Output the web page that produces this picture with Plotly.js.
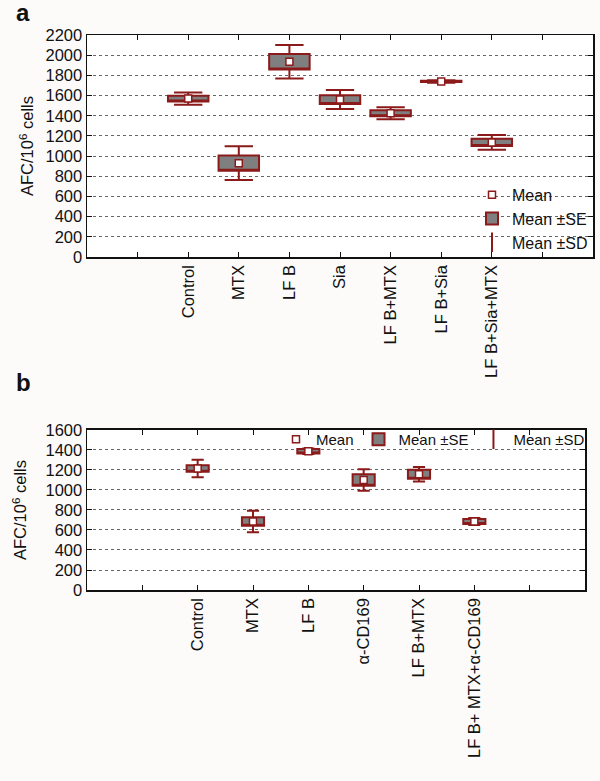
<!DOCTYPE html>
<html>
<head>
<meta charset="utf-8">
<script src="https://cdn.plot.ly/plotly-3.0.1.min.js"></script>
<style>html,body{margin:0;padding:0;background:#fcfbf9;}#chart{width:600px;height:781px;}</style>
</head>
<body>
<div id="chart"></div>
<script>
// Panel a data
var catsA = ['Control', 'MTX', 'LF B', 'Sia', 'LF B+MTX', 'LF B+Sia', 'LF B+Sia+MTX'];
var meanA = [1570, 930, 1935, 1560, 1425, 1740, 1135];
var seA   = [28, 76, 76, 44, 30, 6, 36];
var sdA   = [60, 167, 167, 94, 60, 12, 73];

// Panel b data
var catsB = ['Control', 'MTX', 'LF B', 'α-CD169', 'LF B+MTX', 'LF B+ MTX+α-CD169'];
var meanB = [1215, 685, 1387, 1100, 1158, 685];
var seB   = [33, 42, 22, 58, 45, 26];
var sdB   = [88, 108, 28, 108, 72, 34];

var legendNames = ['Mean', 'Mean ±SE', 'Mean ±SD'];

var RED = '#8b1a1a';
var GRAY = '#7f7f7f';
var FONT = 'Liberation Sans, Arial, sans-serif';
var FS = 16.5;

function idx(arr) { return arr.map(function (_, i) { return i; }); }
function sub(a, b) { return a.map(function (v, i) { return v - b[i]; }); }
function add(a, b) { return a.map(function (v, i) { return v + b[i]; }); }

function panelTraces(cats, mean, se, sd, xa, ya, leg, boxW, whiskW) {
  var xs = idx(cats);
  return [
    {
      type: 'scatter', mode: 'markers', x: xs, y: mean, xaxis: xa, yaxis: ya,
      name: legendNames[0], legend: leg, hoverinfo: 'skip',
      marker: { symbol: 'square', size: 7, color: '#ffffff', line: { color: RED, width: 1.5 } }
    },
    {
      type: 'box', x: xs, xaxis: xa, yaxis: ya, name: legendNames[1], legend: leg,
      q1: sub(mean, se), median: sub(mean, se), q3: add(mean, se),
      lowerfence: sub(mean, sd), upperfence: add(mean, sd),
      width: boxW, whiskerwidth: whiskW, boxpoints: false,
      fillcolor: GRAY, line: { color: RED, width: 2 }, hoverinfo: 'skip'
    },
    {
      type: 'scatter', mode: 'markers', x: [null], y: [null], xaxis: xa, yaxis: ya,
      name: legendNames[2], legend: leg, hoverinfo: 'skip',
      marker: { symbol: 'line-ns-open', size: 14, color: RED, line: { color: RED, width: 2 } }
    }
  ];
}

var traces = panelTraces(catsA, meanA, seA, sdA, 'x', 'y', 'legend', 0.8, 0.7)
  .concat(panelTraces(catsB, meanB, seB, sdB, 'x2', 'y2', 'legend2', 0.4, 0.55));

function xAxis(cats, domain, anchor) {
  return {
    domain: domain, anchor: anchor, range: [-2, cats.length + 1],
    tickmode: 'array', tickvals: idx(cats), ticktext: cats, tickangle: -90,
    ticks: 'inside', ticklen: 5, tickcolor: '#111', tickwidth: 1,
    minor: { ticks: 'inside', ticklen: 5, tickcolor: '#111', tickwidth: 1, dtick: 1, tick0: 0, showgrid: false },
    showline: true, linecolor: '#111', linewidth: 1.5, mirror: 'ticks',
    showgrid: false, zeroline: false, automargin: false,
    tickfont: { family: FONT, size: FS, color: '#111' }
  };
}
function yAxis(maxV, domain, anchor, standoff) {
  return {
    domain: domain, anchor: anchor, range: [0, maxV], dtick: 200, tick0: 0,
    ticks: 'inside', ticklen: 5, tickcolor: '#111', tickwidth: 1,
    showline: true, linecolor: '#111', linewidth: 1.5, mirror: 'ticks',
    showgrid: true, gridcolor: '#666', griddash: 'dot', gridwidth: 1,
    zeroline: false, automargin: false,
    tickfont: { family: FONT, size: FS, color: '#111' },
    title: { text: 'AFC/10<sup>6</sup> cells', standoff: standoff, font: { family: FONT, size: FS, color: '#111' } }
  };
}

var layout = {
  width: 600, height: 781,
  margin: { l: 87, r: 7, t: 35, b: 191 },
  paper_bgcolor: '#fcfbf9', plot_bgcolor: '#ffffff',
  font: { family: FONT, size: FS, color: '#111' },
  xaxis: xAxis(catsA, [0, 1], 'y'),
  yaxis: yAxis(2200, [0.6, 1], 'x', 7),
  xaxis2: xAxis(catsB, [0, 0.9842], 'y2'),
  yaxis2: yAxis(1600, [0, 0.2883], 'x2', 14),
  legend: {
    x: 1, xanchor: 'right', y: 0.595, yanchor: 'bottom', bgcolor: 'rgba(0,0,0,0)',
    font: { family: FONT, size: 16, color: '#111' }, tracegroupgap: 0
  },
  legend2: {
    orientation: 'h', x: 0.3735, xanchor: 'left', y: 0.301, yanchor: 'top',
    bgcolor: 'rgba(0,0,0,0)', font: { family: FONT, size: 15, color: '#111' }
  },
  showlegend: true,
  annotations: [
    { text: '<b>a</b>', xref: 'paper', yref: 'paper', x: -0.144, y: 1.04, xanchor: 'left', yanchor: 'middle',
      showarrow: false, font: { family: FONT, size: 24, color: '#111' } },
    { text: '<b>b</b>', xref: 'paper', yref: 'paper', x: -0.144, y: 0.373, xanchor: 'left', yanchor: 'middle',
      showarrow: false, font: { family: FONT, size: 24, color: '#111' } }
  ]
};

Plotly.newPlot('chart', traces, layout, { staticPlot: true, displayModeBar: false });
</script>
</body>
</html>
